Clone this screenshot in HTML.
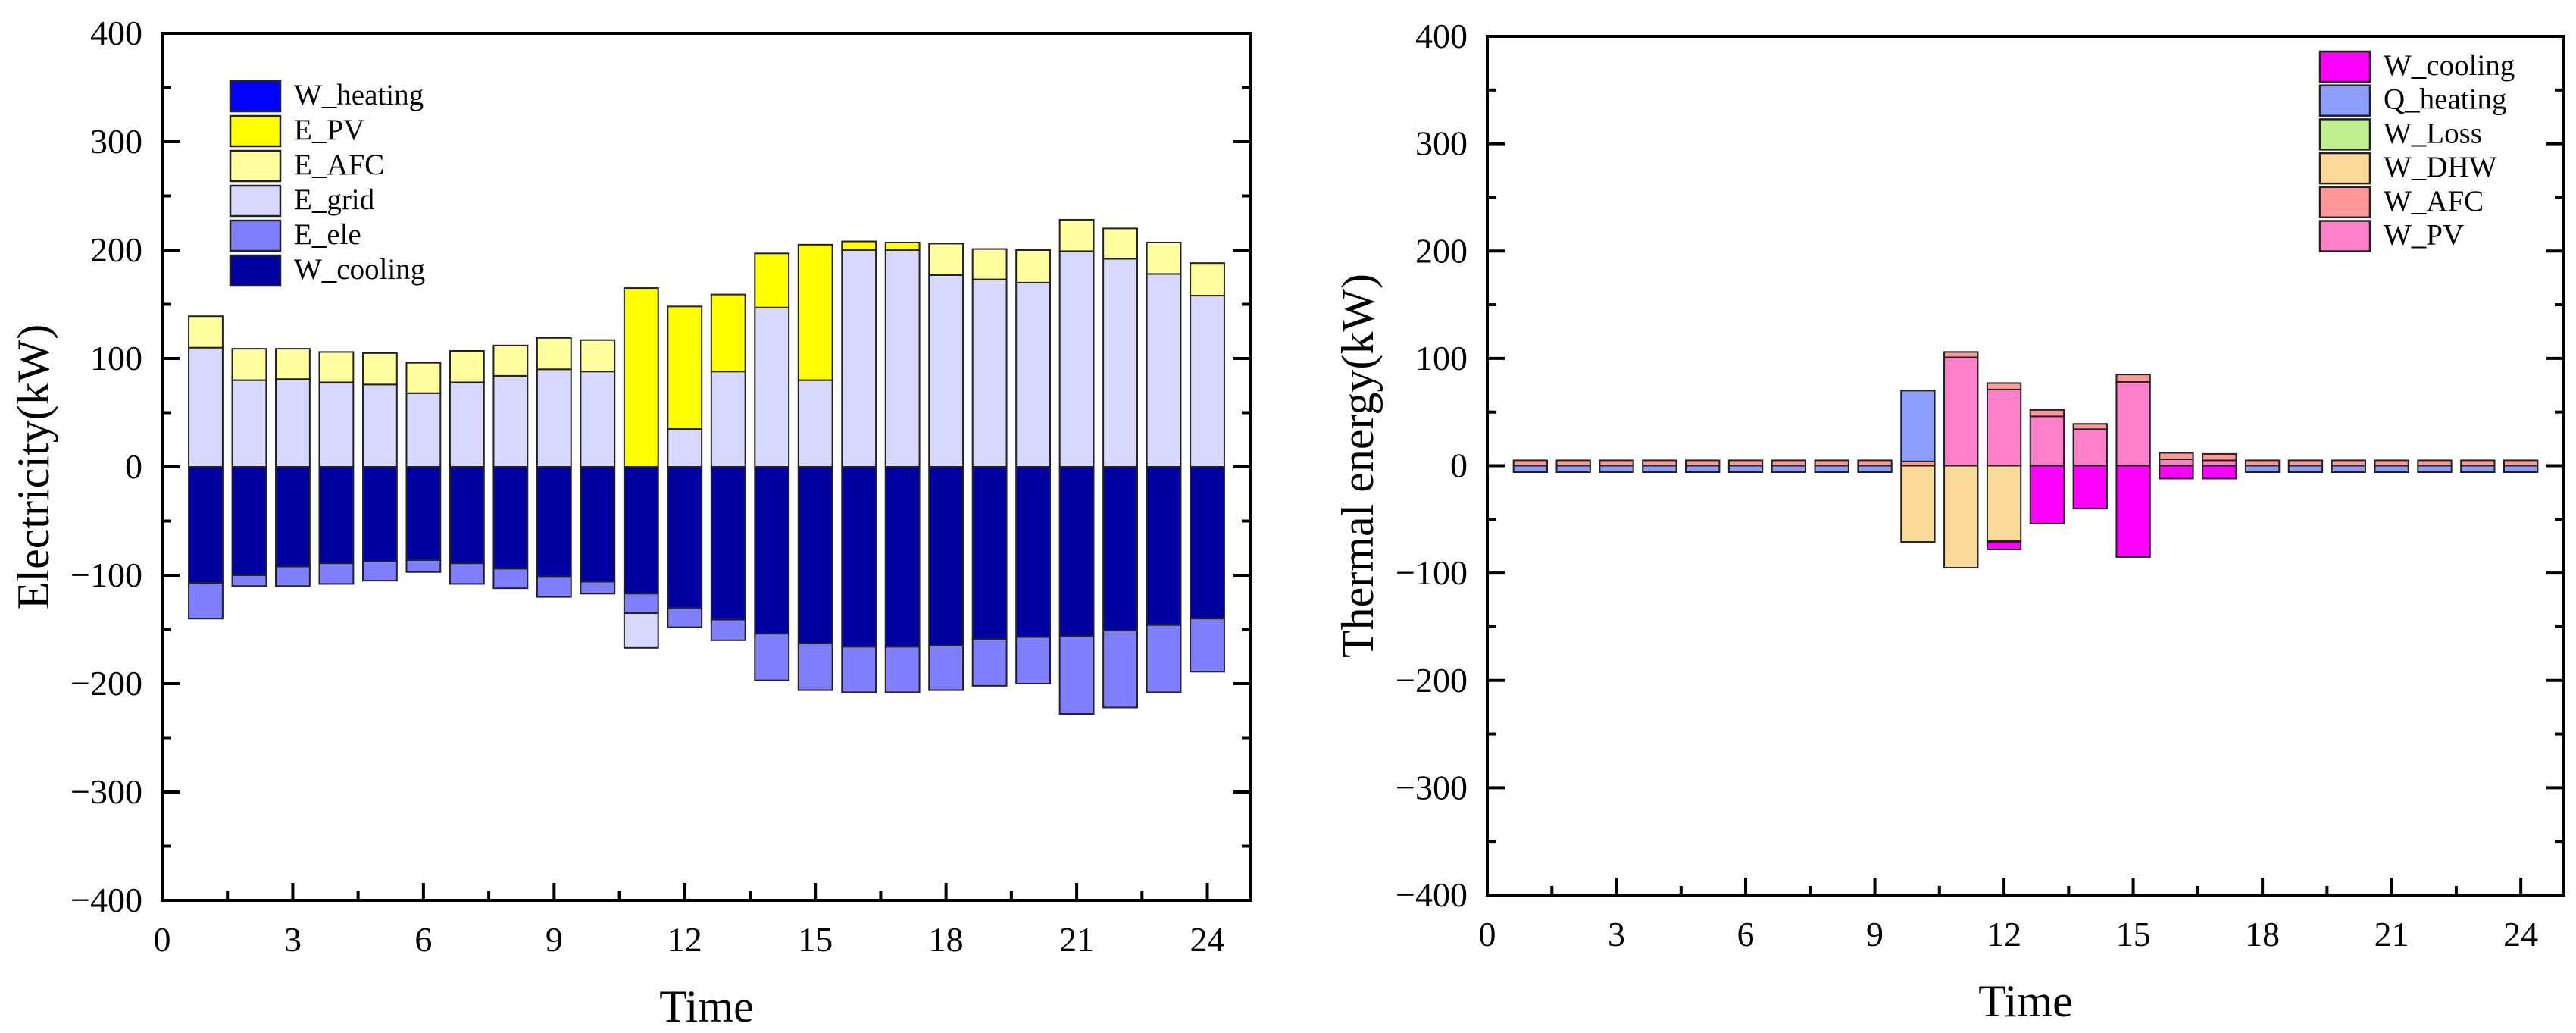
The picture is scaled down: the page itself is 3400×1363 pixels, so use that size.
<!DOCTYPE html>
<html><head><meta charset="utf-8"><style>
html,body{margin:0;padding:0;background:#fff;}
svg{display:block;}
text{font-family:"Liberation Serif","Times New Roman",serif;}
</style></head><body>
<svg id="svg" width="3400" height="1363" viewBox="0 0 3400 1363" xmlns="http://www.w3.org/2000/svg" font-family="Liberation Serif, serif"></svg>
<script>
// ---- Left chart data (Electricity) ----
const hours = [1,2,3,4,5,6,7,8,9,10,11,12,13,14,15,16,17,18,19,20,21,22,23,24];
const eGrid = [110,80,81,78,76,68,78,84,90,88,0,35,88,147,80,200,200,177,173,170,199,192,178,158];
const eAFC  = [29,29,28,28,29,28,29,28,29,29,0,0,0,0,0,0,0,29,28,30,29,28,29,30];
const ePV   = [0,0,0,0,0,0,0,0,0,0,165,113,71,50,125,8,7,0,0,0,0,0,0,0];
const wCoolingNeg = [107,100,92,89,87,86,89,94,101,106,117,130,141,154,163,166,166,165,159,157,156,151,146,140];
const eEleNeg = [33,10,18,19,18,11,19,18,19,11,18,18,19,43,43,42,42,41,43,43,72,71,62,49];
const eGridNeg = [0,0,0,0,0,0,0,0,0,0,32,0,0,0,0,0,0,0,0,0,0,0,0,0];
// ---- Right chart data (Thermal) ----
const tPV  = [0,0,0,0,0,0,0,0,0,0,101,71,46,34,78,6,5,0,0,0,0,0,0,0];
const tAFC = [5,5,5,5,5,5,5,5,5,4,5,6,6,5,7,6,6,5,5,5,5,5,5,5];
const tHeat = [0,0,0,0,0,0,0,0,0,66,0,0,0,0,0,0,0,0,0,0,0,0,0,0];
const tHeatNeg = [6,6,6,6,6,6,6,6,6,0,0,0,0,0,0,0,0,6,6,6,6,6,6,6];
const tDHWNeg = [0,0,0,0,0,0,0,0,0,71,95,70,0,0,0,0,0,0,0,0,0,0,0,0];
const tLossNeg = [0,0,0,0,0,0,0,0,0,0,0,1,0,0,0,0,0,0,0,0,0,0,0,0];
const tCoolNeg = [0,0,0,0,0,0,0,0,0,0,0,7,54,40,85,12,12,0,0,0,0,0,0,0];
const yTicks = [400,300,200,100,0,-100,-200,-300,-400];
const xTicks = [0,3,6,9,12,15,18,21,24];

const NS="http://www.w3.org/2000/svg";
const svg=document.getElementById('svg');
const FF='Liberation Serif, serif';
function el(tag,attrs,parent){const e=document.createElementNS(NS,tag);for(const k in attrs)e.setAttribute(k,attrs[k]);(parent||svg).appendChild(e);return e;}

function chart(cfg){
  const g=el('g',{});
  
  
  const L=cfg.left,R=cfg.right,T=cfg.top,B=cfg.bottom;
  const xs=v=>L+(v-0)/(25-0)*(R-L);
  const ys=v=>T+(400-v)/800*(B-T);
  const bw=0.78;
  cfg.pos.forEach(s=>{
    hours.forEach((h,i)=>{
      let base=0;
      for(let k=0;k<s.length;k++){
        const ser=s[k]; const v=ser.vals[i];
        if(v>0){
          const y0=ys(base), y1=ys(base+v*ser.sign);
          const r=el('rect',{x:xs(h-bw/2),y:Math.min(y0,y1),width:xs(bw)-xs(0),height:Math.abs(y1-y0),fill:ser.color,stroke:'#222','stroke-width':2},g);
          
          
          base+=v*ser.sign;
        }
      }
    });
  });
  const fr=el('rect',{x:L,y:T,width:R-L,height:B-T,fill:'none',stroke:'#000','stroke-width':4},g);
  
  
  for(let v=-400;v<=400;v+=50){
    const major=v%100===0; const len=major?23:12;
    el('line',{x1:L,x2:L+len,y1:ys(v),y2:ys(v),stroke:'#000','stroke-width':4},g);
    el('line',{x1:R,x2:R-len,y1:ys(v),y2:ys(v),stroke:'#000','stroke-width':4},g);
  }
  yTicks.forEach(v=>{
    const t=el('text',{x:L-26,y:ys(v)+15,'text-anchor':'end','font-size':46,'font-family':FF,fill:'#000'},g);
    t.textContent=v<0?'\u2212'+Math.abs(v):String(v);
    
    
  });
  for(let v=0;v<=24;v+=1.5){
    const major=v%3===0; const len=major?23:12;
    el('line',{x1:xs(v),x2:xs(v),y1:B,y2:B-len,stroke:'#000','stroke-width':4},g);
  }
  xTicks.forEach(v=>{
    const t=el('text',{x:xs(v),y:B+67,'text-anchor':'middle','font-size':46,'font-family':FF,fill:'#000'},g);
    t.textContent=String(v);
    
    
  });
  const xt=el('text',{x:(L+R)/2,y:B+160,'text-anchor':'middle','font-size':60,'font-family':FF,fill:'#000'},g);
  xt.textContent='Time';
  
  
  const yt=el('text',{x:0,y:0,'text-anchor':'middle','font-size':60,'font-family':FF,fill:'#000',transform:`translate(${cfg.ytx},${(T+B)/2}) rotate(-90)`},g);
  yt.textContent=cfg.ytitle;
  
  
  cfg.legend.forEach((it,i)=>{
    const y=cfg.ly+i*cfg.lstep;
    const r=el('rect',{x:cfg.lx,y:y,width:66,height:40,fill:it[1],stroke:'#222','stroke-width':2.5},g);
    
    
    const t=el('text',{x:cfg.lx+84,y:y+31,'font-size':39,'font-family':FF,fill:'#000'},g);
    t.textContent=it[0];
    
    
  });
}

const C={wheat:'#0000ff',pv:'#ffff00',afc:'#ffffa0',grid:'#d8d8ff',ele:'#8080ff',cool:'#0000a0'};
chart({name:'electricity-chart',left:214,right:1651,top:44,bottom:1188,ytx:64,ytitle:'Electricity(kW)',
  pos:[
    [{key:'e-grid',vals:eGrid,color:C.grid,sign:1},{key:'e-afc',vals:eAFC,color:C.afc,sign:1},{key:'e-pv',vals:ePV,color:C.pv,sign:1}],
    [{key:'w-cooling',vals:wCoolingNeg,color:C.cool,sign:-1},{key:'e-ele',vals:eEleNeg,color:C.ele,sign:-1},{key:'e-grid-neg',vals:eGridNeg,color:C.grid,sign:-1}]
  ],
  lx:304,ly:107,lstep:46,
  legend:[['W_heating',C.wheat],['E_PV',C.pv],['E_AFC',C.afc],['E_grid',C.grid],['E_ele',C.ele],['W_cooling',C.cool]]
});
const D={cool:'#ff00ff',heat:'#8c9cff',loss:'#c0f090',dhw:'#fad898',afc:'#ff9898',pv:'#ff80c8'};
chart({name:'thermal-chart',left:1963,right:3384,top:48,bottom:1181,ytx:1812,ytitle:'Thermal energy(kW)',
  pos:[
    [{key:'w-pv',vals:tPV,color:D.pv,sign:1},{key:'w-afc',vals:tAFC,color:D.afc,sign:1},{key:'q-heating',vals:tHeat,color:D.heat,sign:1}],
    [{key:'q-heating-neg',vals:tHeatNeg,color:D.heat,sign:-1},{key:'w-dhw',vals:tDHWNeg,color:D.dhw,sign:-1},{key:'w-loss',vals:tLossNeg,color:D.loss,sign:-1},{key:'w-cooling',vals:tCoolNeg,color:D.cool,sign:-1}]
  ],
  lx:3062,ly:68,lstep:44.7,
  legend:[['W_cooling',D.cool],['Q_heating',D.heat],['W_Loss',D.loss],['W_DHW',D.dhw],['W_AFC',D.afc],['W_PV',D.pv]]
});
</script>
</body></html>
